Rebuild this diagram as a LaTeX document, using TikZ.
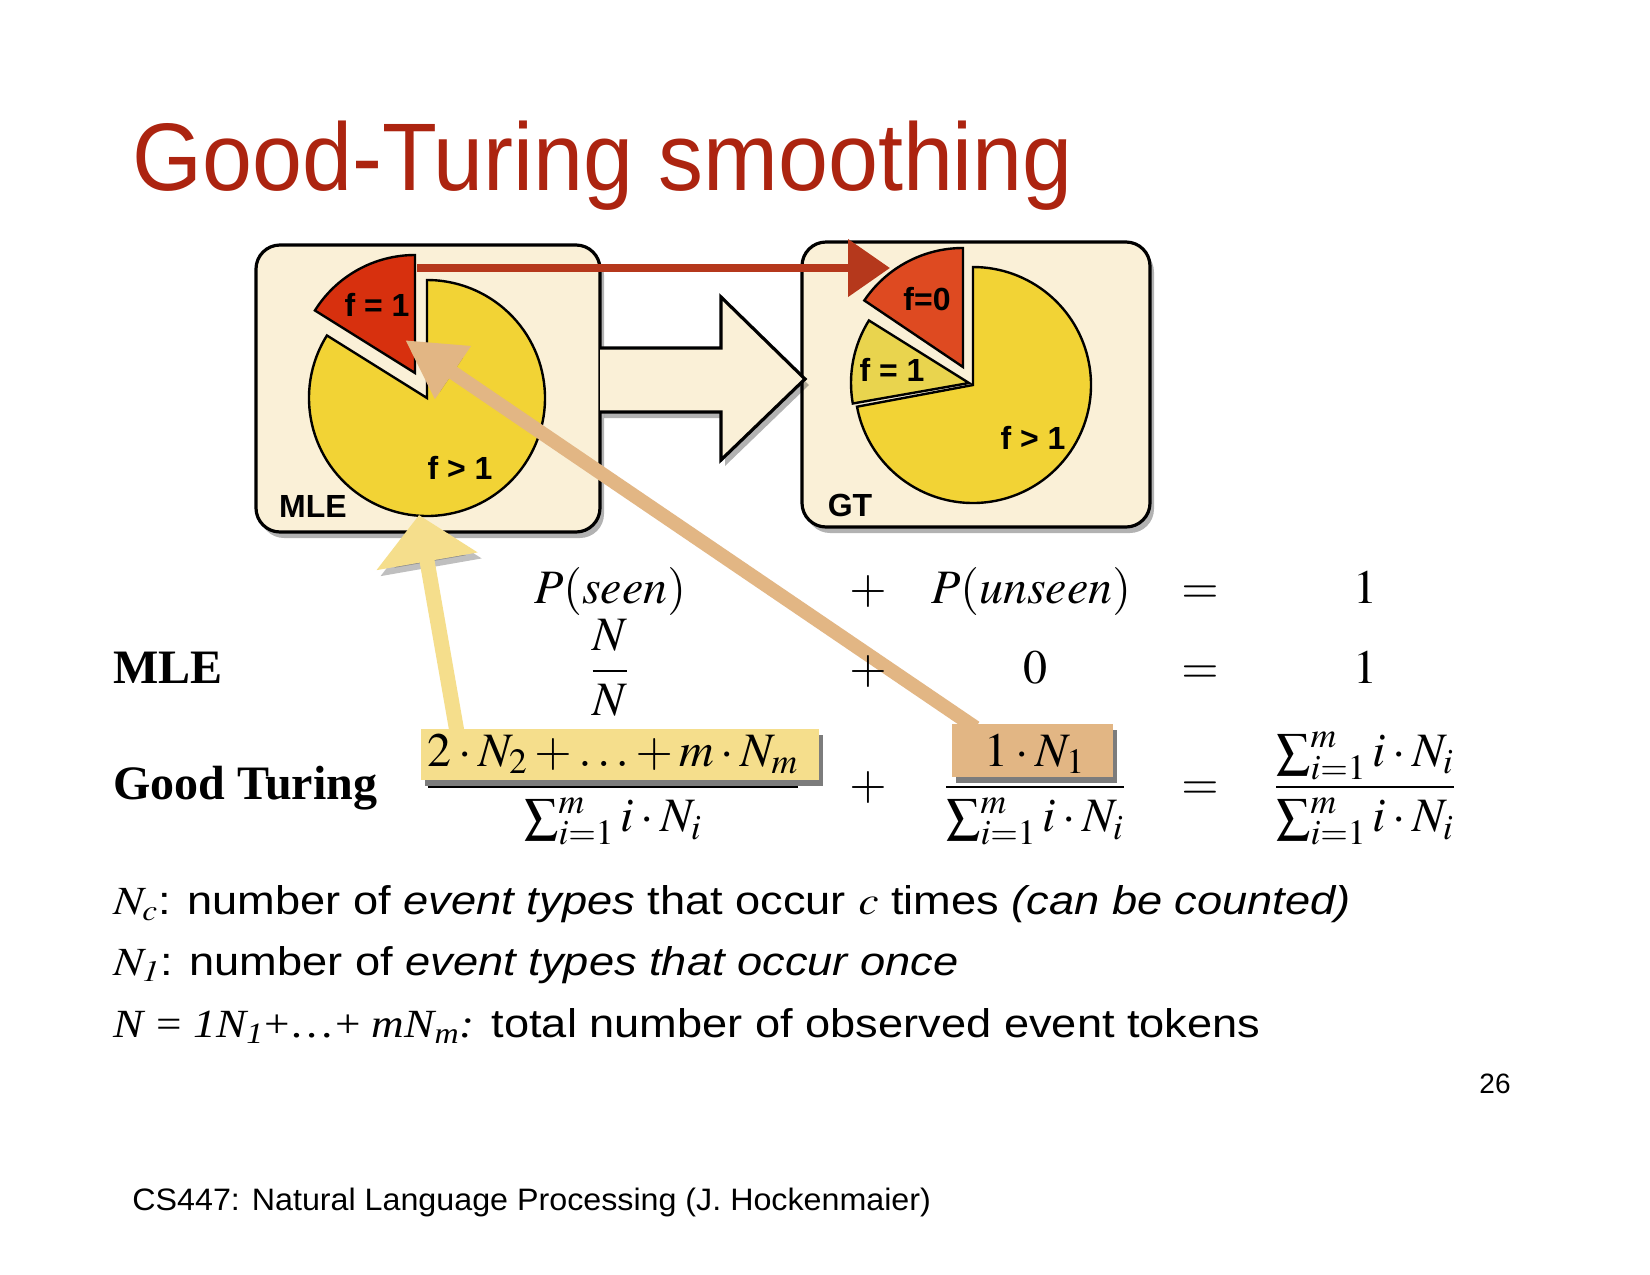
\documentclass[tikz,border=0pt]{standalone}
\usepackage{amsmath}
\usepackage{mathptmx}
\usepackage[no-math]{fontspec}
\setmainfont{Liberation Sans}
\newfontfamily\timesfont{Liberation Serif}
\usepackage{graphicx}
\usepackage{xcolor}
\definecolor{SlideRed}{HTML}{AC2410}
\definecolor{PaneCream}{HTML}{FAF0D7}
\definecolor{PieYellow}{HTML}{F2D335}
\definecolor{PieKhaki}{HTML}{E9D44E}
\definecolor{MleRed}{HTML}{D7300E}
\definecolor{GtRed}{HTML}{DE4A21}
\definecolor{ChalkRed}{HTML}{B5381C}
\definecolor{TanArrow}{HTML}{E2B684}
\definecolor{PaleYellow}{HTML}{F5DE8C}
\usepackage{tikz}
\usetikzlibrary{arrows.meta,shadows}

\begin{document}
\begin{tikzpicture}[x=0.5pt,y=-0.5pt,>=Latex,
pane/.style={draw=black,line width=1.6pt,rounded corners=12pt,fill=PaneCream,inner sep=0pt,
  drop shadow={shadow xshift=2pt,shadow yshift=-3pt,opacity=0.3,fill=black}},
slice/.style={draw=black,line width=1.2pt},
pielabel/.style={font=\fontsize{16}{19}\selectfont\bfseries,inner sep=0pt},
eqn/.style={font=\fontsize{24}{28}\selectfont,anchor=base,inner sep=0pt},
rowlabel/.style={font=\fontsize{24}{28}\selectfont\timesfont\bfseries,anchor=base west,inner sep=0pt},
numbox/.style={inner sep=0pt,drop shadow={shadow xshift=2pt,shadow yshift=-3pt,opacity=0.3,fill=black}},
note/.style={font=\fontsize{20}{24}\selectfont,anchor=base west,inner sep=0pt},
softshade/.style={preaction={draw=black,opacity=0.25,transform canvas={shift={(2pt,-3pt)}}}},
chalk/.style={draw=ChalkRed,line width=4pt,-{Triangle[length=21pt,width=28pt]}},
tanarrow/.style={softshade,draw=TanArrow,line width=7pt,-{Triangle[length=29pt,width=30pt]}},
yelarrow/.style={softshade,draw=PaleYellow,line width=7.5pt,-{Triangle[length=23.5pt,width=50pt]}}]
\useasboundingbox[fill=white] (0,0) rectangle (1650,1275);

% title
\node[anchor=base west,inner sep=0pt,text=SlideRed,font=\fontsize{48}{56}\selectfont] (title) at (132,190)
  {\scalebox{0.936}[1]{Good-Turing smoothing}};

% the two panes
\node[pane,minimum width=172pt,minimum height=143.5pt] (mlebox) at (428,388.5) {};
\node[pane,minimum width=174pt,minimum height=142.5pt] (gtbox) at (976,384.5) {};

% fat arrow from MLE to GT
\draw[line width=1.6pt,fill=PaneCream,drop shadow={shadow xshift=2pt,shadow yshift=-3pt,opacity=0.3,fill=black}]
  (600,348) -- (721,348) -- (721,297) -- (805,379) -- (721,460) -- (721,412) -- (600,412);

% MLE pie
\coordinate (mlec) at (427,398);
\draw[slice,fill=PieYellow] (mlec) -- ++(-148:118) arc[start angle=-148,end angle=-450,radius=118] -- cycle;
\draw[slice,fill=MleRed] (415,373) -- ++(-90:118) arc[start angle=-90,end angle=-148,radius=118] -- cycle;
\node[pielabel] (mleone) at (377,305) {f = 1};
\node[pielabel] (mlemore) at (460,468) {f > 1};
\node[pielabel] (mlename) at (313,506) {MLE};

% GT pie
\coordinate (gtc) at (973,385);
\draw[slice,fill=PieYellow] (gtc) -- ++(-190.6:118) arc[start angle=-190.6,end angle=-450,radius=118] -- cycle;
\draw[slice,fill=PieKhaki] (969,383) -- ++(-148:118) arc[start angle=-148,end angle=-190,radius=118] -- cycle;
\draw[slice,fill=GtRed] (963,367) -- ++(-90:119) arc[start angle=-90,end angle=-146,radius=119] -- cycle;
\node[pielabel] (gtzero) at (927,299) {f=0};
\node[pielabel] (gtone) at (892,370) {f = 1};
\node[pielabel] (gtmore) at (1033,438) {f > 1};
\node[pielabel] (gtname) at (850,505) {GT};

% arrows
\coordinate (mlered) at (417,268);
\coordinate (gtred) at (890,268);
\coordinate (redtip) at (405,340);
\coordinate (pietip) at (419,515);
\node[numbox,fill=PaleYellow,minimum width=199pt,minimum height=25.5pt] (numseen) at (620,754) {};
\node[numbox,fill=TanArrow,minimum width=80.5pt,minimum height=26.5pt] (numunseen) at (1032.5,750.5) {};
\draw[chalk] (mlered) -- (gtred);
\draw[tanarrow] ([xshift=-28.5pt,yshift=-2pt]numunseen.north) -- (redtip);
\draw[yelarrow] ([xshift=-81.5pt,yshift=-2pt]numseen.north) -- (pietip);
\node[numbox,fill=PaleYellow,minimum width=199pt,minimum height=25.5pt] at (numseen) {};
\node[numbox,fill=TanArrow,minimum width=80.5pt,minimum height=26.5pt] at (numunseen) {};

% equations
\node[eqn] (seen) at (610,603) {$P(seen)$};
\node[eqn] (plusa) at (868,603) {$+$};
\node[eqn] (unseen) at (1031,603) {$P(unseen)$};
\node[eqn] (eqa) at (1200,603) {$=$};
\node[eqn] (onea) at (1365,603) {$1$};

\node[rowlabel] (mle) at (113,683) {MLE};
\node[eqn] (mlefrac) at (610,683) {$\dfrac{N}{N}$};
\node[eqn] (plusb) at (868,683) {$+$};
\node[eqn] (zero) at (1035,683) {$0$};
\node[eqn] (eqb) at (1200,683) {$=$};
\node[eqn] (oneb) at (1365,683) {$1$};

\node[rowlabel] (gt) at (113,799) {Good Turing};
\node[eqn] (gtseen) at (613,799) {$\dfrac{2\cdot N_2+\ldots+m\cdot N_m}{\sum_{i=1}^m i\cdot N_i}$};
\node[eqn] (plusc) at (868,799) {$+$};
\node[eqn] (gtunseen) at (1035,799) {$\dfrac{1\cdot N_1}{\sum_{i=1}^m i\cdot N_i}$};
\node[eqn] (eqc) at (1200,799) {$=$};
\node[eqn] (gttotal) at (1365,799) {$\dfrac{\sum_{i=1}^m i\cdot N_i}{\sum_{i=1}^m i\cdot N_i}$};

% notes
\node[note] (ncline) at (113,914) {\scalebox{1.13}[1]{$N_c$: number of \textit{event types} that occur $c$ times \textit{(can be counted)}}};
\node[note] (noneline) at (113,975) {\scalebox{1.13}[1]{$N_{\mathit{1}}$: number of \textit{event types that occur once}}};
\node[note] (nline) at (113,1037) {\scalebox{1.13}[1]{{\timesfont\textit{N} = \textit{1N\textsubscript{1}}+\ldots+ \textit{mN\textsubscript{m}:}} total number of observed event tokens}};

% page number and footer
\node[anchor=base,inner sep=0pt,font=\fontsize{14}{17}\selectfont] (pagenum) at (1495,1093) {26};
\node[anchor=base west,inner sep=0pt,font=\fontsize{15.5}{19}\selectfont] (footer) at (132,1210)
  {\scalebox{1.04}[1]{CS447: Natural Language Processing (J. Hockenmaier)}};
\end{tikzpicture}
\end{document}
